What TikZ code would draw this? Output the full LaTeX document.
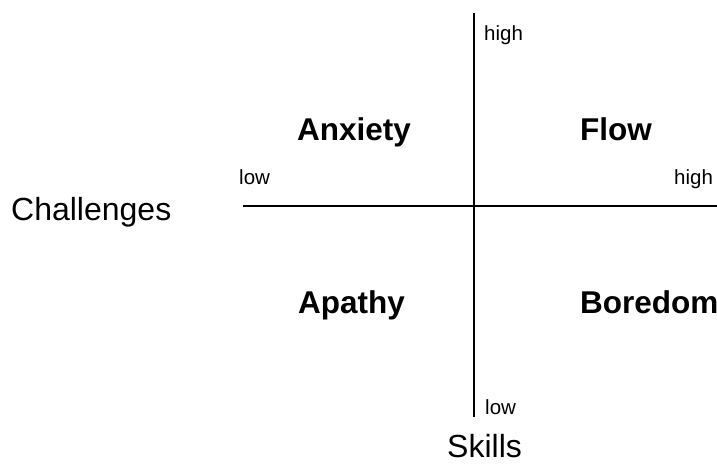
\documentclass[tikz,border=0pt]{standalone}
\usepackage{fontspec}
\setmainfont{Liberation Sans}
\begin{document}
\begin{tikzpicture}[x=1pt,y=-1pt,
  axis/.style={line width=2pt,black},
  quad/.style={anchor=base west,inner sep=0pt,font=\fontsize{31.5}{38}\selectfont\bfseries},
  axtitle/.style={anchor=base west,inner sep=0pt,font=\fontsize{32}{38}\selectfont},
  tick/.style={anchor=base west,inner sep=0pt,font=\fontsize{20.5}{25}\selectfont}]
  \useasboundingbox (0,0) rectangle (717,464);
  % axes
  \coordinate (vtop) at (474,13);
  \coordinate (vbot) at (474,417);
  \coordinate (hleft) at (243,206);
  \coordinate (hright) at (717,206);
  \draw[axis] (vtop) -- (vbot);
  \draw[axis] (hleft) -- (hright);
  % axis end labels
  \node[tick] (skhigh) at (484,40) {high};
  \node[tick] (sklow) at (485,414) {low};
  \node[tick] (chlow) at (239,184) {low};
  \node[tick] (chhigh) at (674,184) {high};
  % axis titles
  \node[axtitle] (chal) at (11,220) {Challenges};
  \node[axtitle] (skills) at (447,457) {Skills};
  % quadrants
  \node[quad] (anx) at (297,140) {Anxiety};
  \node[quad] (flow) at (580,140) {Flow};
  \node[quad] (apa) at (298,313) {Apathy};
  \node[quad] (bor) at (580,313) {Boredom};
\end{tikzpicture}
\end{document}
